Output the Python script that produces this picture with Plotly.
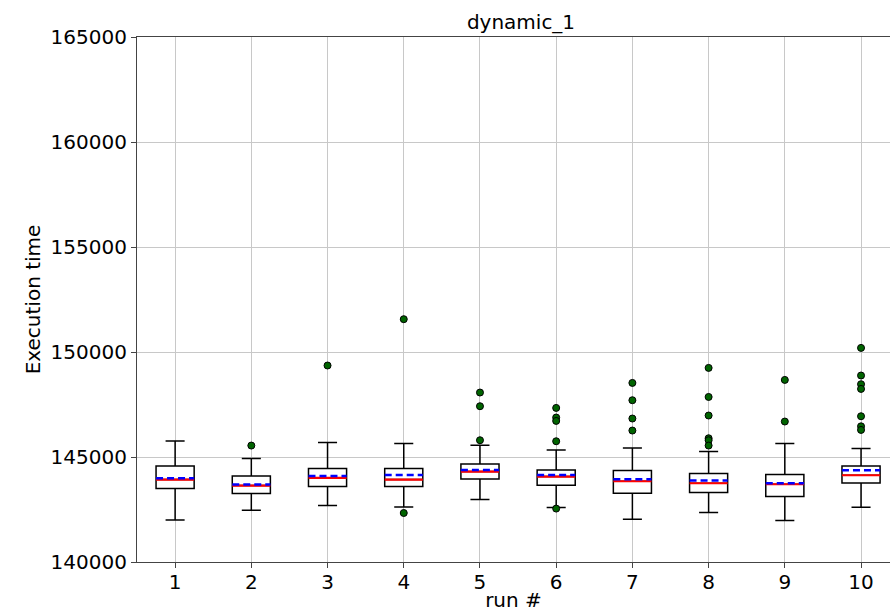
import plotly.graph_objects as go

runs = [1, 2, 3, 4, 5, 6, 7, 8, 9, 10]
q1 = [143497, 143258, 143592, 143592, 143954, 143654, 143273, 143306, 143116, 143764]
median = [143926, 143640, 144002, 143926, 144307, 144069, 143845, 143750, 143702, 144130]
q3 = [144574, 144097, 144450, 144450, 144669, 144383, 144354, 144212, 144164, 144574]
mean = [143990, 143687, 144097, 144145, 144383, 144145, 143940, 143878, 143750, 144369]
lower_whisker = [142000, 142463, 142687, 142620, 142973, 142592, 142034, 142353, 141972, 142606]
upper_whisker = [145765, 144926, 145688, 145640, 145560, 145336, 145431, 145260, 145640, 145402]
outliers = {
    1: [],
    2: [145545],
    3: [149357],
    4: [151563, 142334],
    5: [148070, 147418, 145798],
    6: [147337, 146880, 146718, 145750, 142544],
    7: [148528, 147704, 146832, 146260],
    8: [149243, 147860, 146975, 145893, 145798, 145545],
    9: [148671, 146689],
    10: [150195, 148880, 148466, 148242, 146940, 146460, 146289],
}
y_ticks = [140000, 145000, 150000, 155000, 160000, 165000]
title = "dynamic_1"
x_label = "run #"
y_label = "Execution time"

BOX_W = 0.5
FONT = "DejaVu Sans"

fig = go.Figure()
fig.add_trace(go.Box(
    x=runs, q1=q1, median=median, q3=q3,
    lowerfence=lower_whisker, upperfence=upper_whisker,
    width=BOX_W, whiskerwidth=0.5,
    boxpoints=False,
    line=dict(color="black", width=1.5),
    fillcolor="white",
    showlegend=False, hoverinfo="skip",
))

# median (red) and mean (blue dashed) segments
mx, my, ax_, ay = [], [], [], []
for r, m, mn in zip(runs, median, mean):
    mx += [r - BOX_W / 2, r + BOX_W / 2, None]
    my += [m, m, None]
    ax_ += [r - BOX_W / 2, r + BOX_W / 2, None]
    ay += [mn, mn, None]
fig.add_trace(go.Scatter(x=mx, y=my, mode="lines",
                         line=dict(color="red", width=2.2), showlegend=False, hoverinfo="skip"))
fig.add_trace(go.Scatter(x=ax_, y=ay, mode="lines",
                         line=dict(color="blue", width=2.4, dash="7px,4px"), showlegend=False, hoverinfo="skip"))

ox, oy = [], []
for r in runs:
    for v in outliers[r]:
        ox.append(r)
        oy.append(v)
fig.add_trace(go.Scatter(x=ox, y=oy, mode="markers",
                         marker=dict(color="darkgreen", size=7, line=dict(color="black", width=1)),
                         showlegend=False, hoverinfo="skip"))

fig.update_layout(
    width=890, height=612,
    margin=dict(l=137, r=0, t=37, b=50),
    paper_bgcolor="white", plot_bgcolor="white",
    font=dict(family=FONT, size=20, color="black"),
    title=dict(text=title, x=521 / 890, xanchor="center", y=1 - 22 / 612, yanchor="middle",
               font=dict(size=20, family=FONT)),
    xaxis=dict(
        range=[0.5, 10.38], automargin=False,
        tickmode="array", tickvals=runs, ticktext=[str(r) for r in runs],
        showgrid=True, gridcolor="#c8c8c8", gridwidth=1,
        showline=True, linecolor="#444", linewidth=1.2, mirror=True,
        ticks="outside", ticklen=5, tickcolor="#444",
        ticklabelstandoff=-3,
        title=dict(text=x_label, standoff=0, font=dict(size=20)),
        zeroline=False,
    ),
    yaxis=dict(
        range=[140000, 165000], automargin=False,
        tickmode="array", tickvals=y_ticks, ticktext=[str(t) for t in y_ticks],
        showgrid=True, gridcolor="#c8c8c8", gridwidth=1,
        showline=True, linecolor="#444", linewidth=1.2,
        ticks="outside", ticklen=5, tickcolor="#444",
        title=dict(text=y_label, standoff=4, font=dict(size=20)),
        zeroline=False,
    ),
)

fig.write_html("out.html", config={"displayModeBar": False},
               post_script="document.body.style.margin='0';document.body.style.overflow='hidden';")
